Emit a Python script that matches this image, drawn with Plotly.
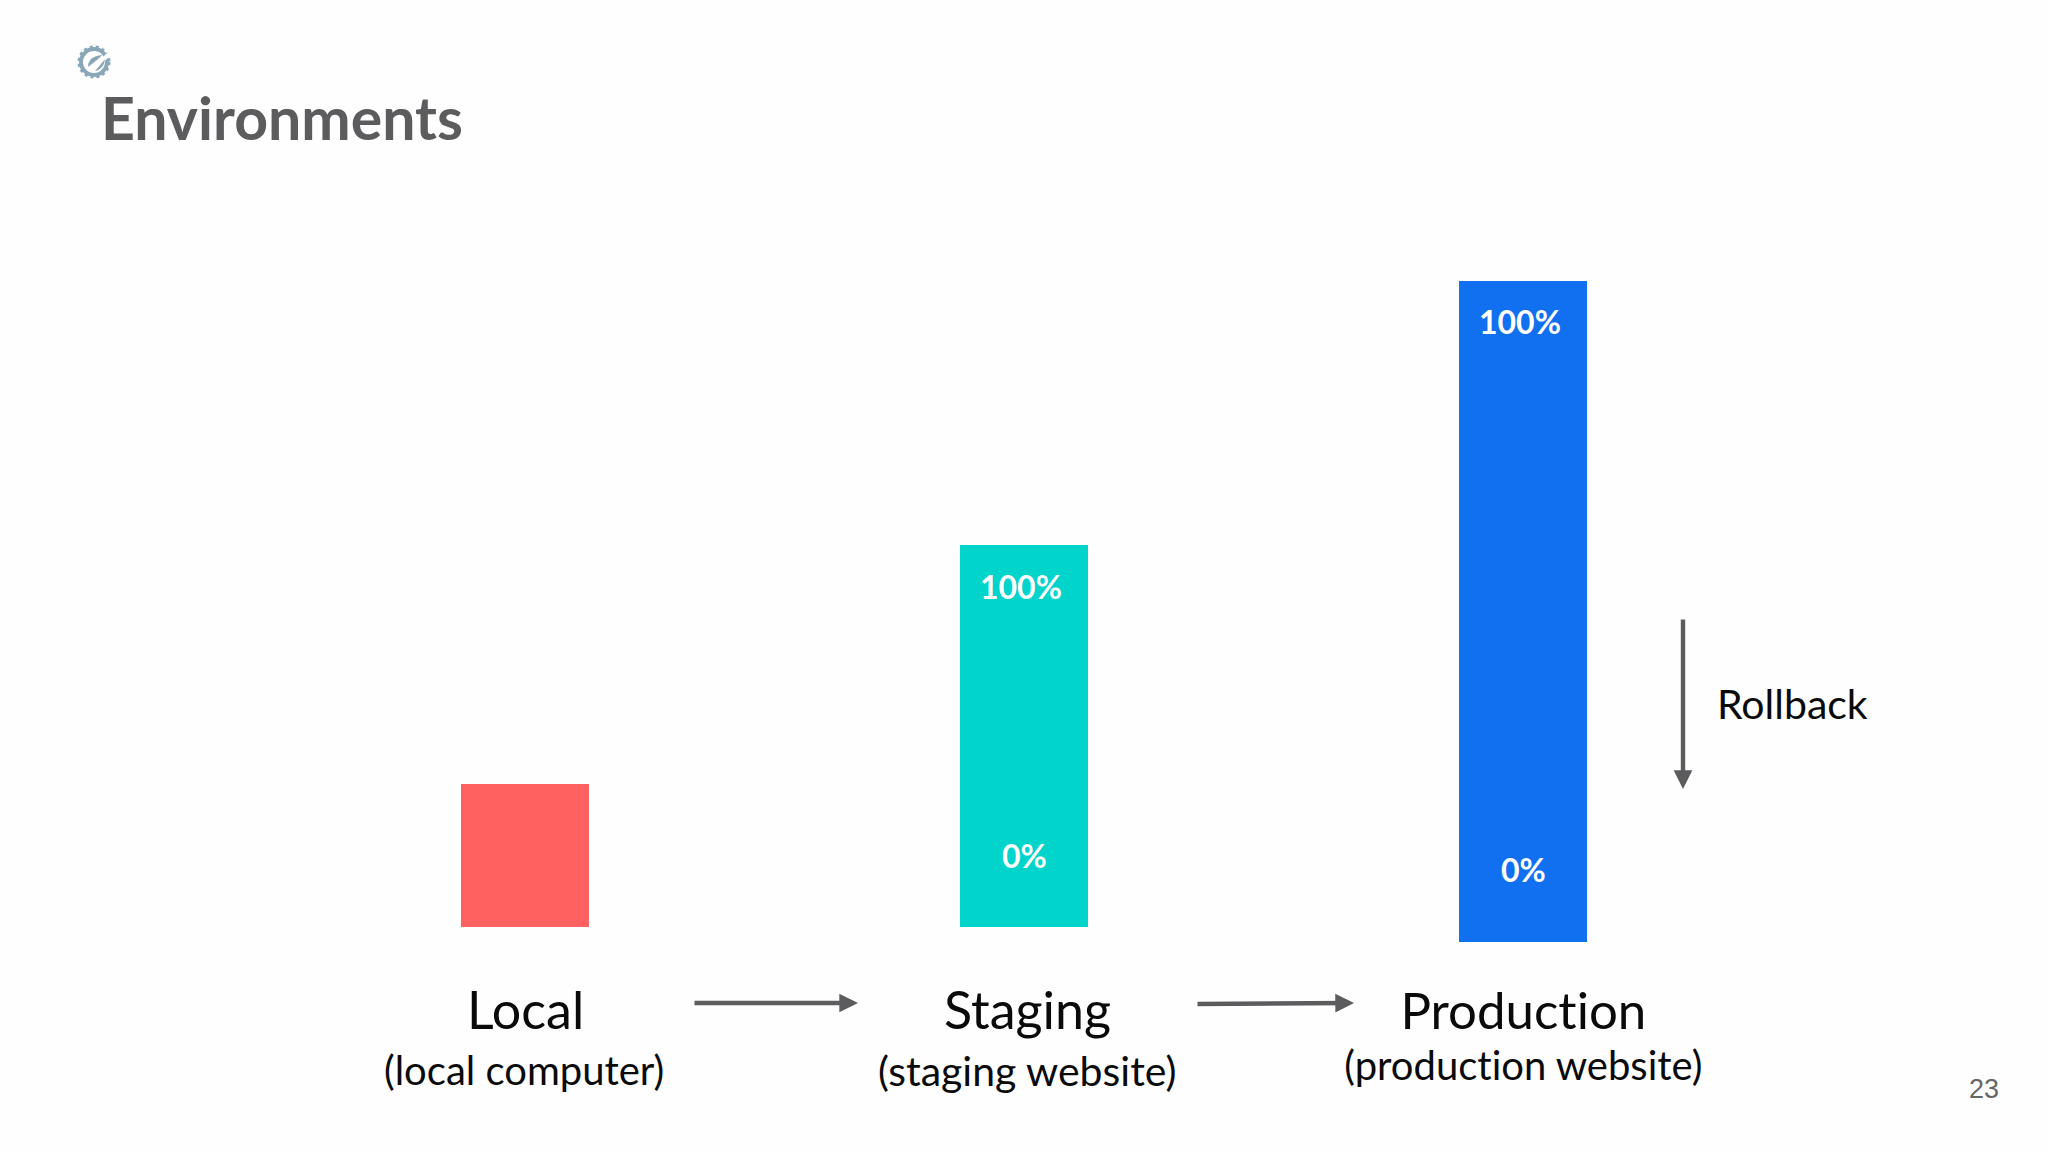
import plotly.graph_objects as go

W = 2048
H = 1152

categories = ["Local", "Staging", "Production"]
subtitles = ["(local computer)", "(staging website)", "(production website)"]
heights = [143, 382, 661]
bases = [0, 0, -15]
colors = ["#ff6060", "#00d4cb", "#1170f0"]

GREY = "#5c5c5f"
LOGO = "#8aa7b8"
FONT = "Lato"


def px(x):
    return x / W


def py(y):
    return 1 - y / H


def label(text, x, y, size, color="#0a0a0a", weight=400, family=FONT, anchor="center"):
    return dict(text=text, x=px(x), y=py(y), xref="paper", yref="paper", showarrow=False,
                xanchor=anchor, yanchor="middle",
                font=dict(family=family, size=size, color=color, weight=weight))


def arrow(x0, y0, x1, y1):
    # ax/ay are pixel offsets of the tail from the head
    return dict(x=px(x1), y=py(y1), ax=x0 - x1, ay=y0 - y1, xref="paper", yref="paper",
                axref="pixel", ayref="pixel", text="", showarrow=True, arrowhead=2,
                arrowsize=0.85, arrowwidth=4.4, arrowcolor=GREY)


def leaf(x0, y0, cx, cy, x1, y1, cx2, cy2):
    # closed curved blob for the logo, points given in pixels
    p = f"M {px(x0)},{py(y0)} Q {px(cx)},{py(cy)} {px(x1)},{py(y1)} Q {px(cx2)},{py(cy2)} {px(x0)},{py(y0)} Z"
    return dict(type="path", xref="paper", yref="paper", path=p,
                fillcolor=LOGO, line=dict(width=0))


fig = go.Figure(go.Bar(x=categories, y=heights, base=bases, width=0.2565,
                       marker=dict(color=colors, line=dict(width=0))))

notes = [
    label("Environments", 99, 117, 59, GREY, 700, anchor="left"),
    label("100%", 1021, 586, 32, "#ffffff", 700),
    label("0%", 1024, 855, 32, "#ffffff", 700),
    label("100%", 1520, 322, 32, "#ffffff", 700),
    label("0%", 1523, 869, 32, "#ffffff", 700),
    label(categories[0], 525, 1009, 52),
    label(categories[1], 1027, 1009, 52),
    label(categories[2], 1523, 1009, 51),
    label(subtitles[0], 524, 1070, 40),
    label(subtitles[1], 1027, 1070, 41),
    label(subtitles[2], 1523, 1065, 40),
    label("Rollback", 1715, 703, 41, anchor="left"),
    label("23", 1984, 1089, 27, "#666666", family="Liberation Sans"),
    arrow(693, 1003, 858, 1003),
    arrow(1196, 1004, 1354, 1003),
    arrow(1683, 618, 1683, 789),
]

# little gear-and-needle logo top left
logo = [
    dict(type="circle", xref="paper", yref="paper", x0=px(79), x1=px(109), y0=py(77), y1=py(47),
         line=dict(color=LOGO, width=3, dash="dot")),
    dict(type="circle", xref="paper", yref="paper", x0=px(81), x1=px(107), y0=py(75), y1=py(49),
         line=dict(color=LOGO, width=4)),
    dict(type="line", xref="paper", yref="paper", x0=px(93), x1=px(111), y0=py(70), y1=py(52),
         line=dict(color="#fefefe", width=4)),
    leaf(88, 67, 88, 56, 102, 55, 100, 58),
    leaf(95, 71, 104, 69, 105, 59, 102, 63),
]

fig.update_layout(
    width=W,
    height=H,
    margin=dict(l=0, r=0, t=0, b=0),
    paper_bgcolor="#fefefe",
    plot_bgcolor="#fefefe",
    showlegend=False,
    annotations=notes,
    shapes=logo,
    xaxis=dict(visible=False, range=[-1.052, 3.052]),
    yaxis=dict(visible=False, range=[-225, 927]),
)

post = ("document.body.style.margin='0';"
        "var s=document.createElement('style');"
        "s.textContent='text{font-variant-ligatures:none !important}';"
        "document.head.appendChild(s);")
fig.write_html("out.html", config={"displayModeBar": False}, post_script=post)
